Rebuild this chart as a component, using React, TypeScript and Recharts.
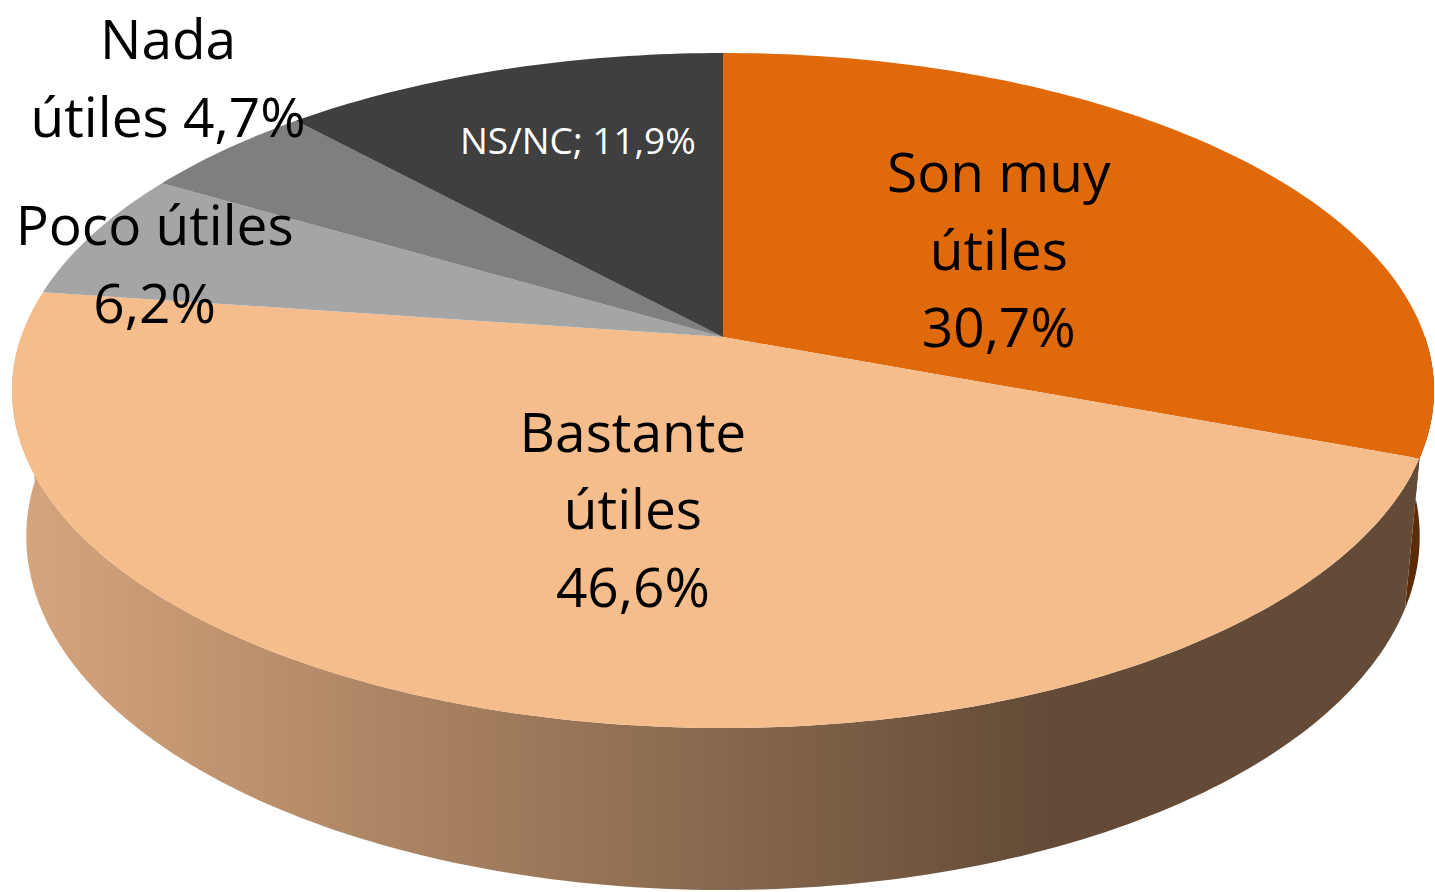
import React from 'react';
import { PieChart, Pie, Cell } from 'recharts';

// Datos de la encuesta
const CATEGORIES = ['Son muy útiles', 'Bastante útiles', 'Poco útiles', 'Nada útiles', 'NS/NC'];
const VALUES = [30.7, 46.6, 6.2, 4.7, 11.9];
const TOP_COLORS = ['#E0690A', '#F6BD8C', '#A5A5A5', '#7F7F7F', '#3F3F3F'];
const SIDE_COLORS = ['#5B2C06', 'url(#sideBastante)', '#8C8C8C', '#666666', '#2A2A2A'];
// Cómo se parte cada etiqueta en líneas; el porcentaje va en línea aparte o al final
const LABEL_LINES = [['Son muy', 'útiles'], ['Bastante', 'útiles'], ['Poco útiles'], ['Nada', 'útiles'], ['NS/NC;']];
const PCT_NEW_LINE = [true, true, true, false, false];
const LABEL_COLORS = ['#000000', '#000000', '#000000', '#000000', '#FFFFFF'];

// Colocación de las etiquetas: radio relativo sobre el ángulo medio + ajuste vertical
const LABEL_LAYOUT = [
  { r: 0.5, dy: 3, size: 55 },
  { r: 0.484, dy: 6, size: 55 },
  { r: 0.897, dy: 20, size: 55 },
  { r: 1.127, dy: -50, size: 55 },
  { r: 0.618, dy: -23, size: 37 },
];

const data = CATEGORIES.map((name, i) => ({ name, value: VALUES[i] }));

// Perspectiva del "queso" 3D
const SIN_P = 0.4687;
const COS_P = 0.8834;
const DIST = 5.57;
const THICK = 0.2376;
const FONT = '"Open Sans", sans-serif';

const formatPct = (v: number) => `${v.toFixed(1).replace('.', ',')}%`;

const project = (cx: number, cy: number, R: number, X: number, Y: number, Z: number) => {
  const z = DIST + Z * COS_P - Y * SIN_P;
  const f = R * DIST;
  return [cx + (f * X) / z, cy - (f * (Y * COS_P + Z * SIN_P)) / z];
};

const arc = (cx: number, cy: number, R: number, from: number, to: number, Y: number) => {
  const pts: number[][] = [];
  const n = Math.max(2, Math.ceil(Math.abs(to - from)));
  for (let i = 0; i <= n; i++) {
    const a = ((from + ((to - from) * i) / n) * Math.PI) / 180;
    pts.push(project(cx, cy, R, Math.cos(a), Y, Math.sin(a)));
  }
  return pts;
};

const toPath = (pts: number[][]) =>
  'M' + pts.map((p) => `${p[0].toFixed(2)},${p[1].toFixed(2)}`).join('L') + 'Z';

const renderSlice = (props: any) => {
  const { cx, cy, outerRadius, startAngle, endAngle, fill } = props;
  const name = props.payload?.name ?? props.name;
  const idx = CATEGORIES.indexOf(name);
  const lo = Math.max(Math.min(startAngle, endAngle), -180);
  const hi = Math.min(Math.max(startAngle, endAngle), 0);
  let side = null;
  if (lo < hi) {
    const top = arc(cx, cy, outerRadius, hi, lo, 0);
    const bottom = arc(cx, cy, outerRadius, lo, hi, -THICK);
    side = <path d={toPath([...top, ...bottom])} fill={SIDE_COLORS[idx]} stroke="none" />;
  }
  const face = [[cx, cy], ...arc(cx, cy, outerRadius, startAngle, endAngle, 0)];
  return (
    <g>
      <defs>
        <linearGradient id="sideBastante" gradientUnits="userSpaceOnUse" x1={20} y1={0} x2={1050} y2={0}>
          <stop offset="0" stopColor="#D6A57D" />
          <stop offset="1" stopColor="#634B37" />
        </linearGradient>
      </defs>
      {side}
      <path d={toPath(face)} fill={fill} stroke="none" />
    </g>
  );
};

const renderLabel = (props: any) => {
  const { cx, cy, outerRadius, midAngle, index, value } = props;
  const lay = LABEL_LAYOUT[index];
  const a = (midAngle * Math.PI) / 180;
  const [x, y0] = project(cx, cy, outerRadius, lay.r * Math.cos(a), 0, lay.r * Math.sin(a));
  const y = y0 + lay.dy;
  const lines = [...LABEL_LINES[index]];
  const last = lines.length - 1;
  if (PCT_NEW_LINE[index]) lines.push(formatPct(value));
  else lines[last] = `${lines[last]} ${formatPct(value)}`;
  const lh = lay.size * 1.41;
  const first = y - ((lines.length - 1) * lh) / 2 + lay.size * 0.357;
  return (
    <text
      key={`lbl-${index}`}
      x={x}
      y={first}
      textAnchor="middle"
      fill={LABEL_COLORS[index]}
      fontFamily={FONT}
      fontSize={lay.size}
    >
      {lines.map((t, i) => (
        <tspan key={i} x={x} y={first + i * lh}>
          {t}
        </tspan>
      ))}
    </text>
  );
};

export default function App() {
  return (
    <div style={{ width: 1435, height: 892, background: '#FFFFFF' }}>
      <style>{'body{margin:0;}'}</style>
      <PieChart width={1435} height={892} margin={{ top: 0, right: 0, bottom: 0, left: 0 }}>
        <Pie
          data={data}
          dataKey="value"
          nameKey="name"
          cx={723}
          cy={337}
          outerRadius={702}
          startAngle={90}
          endAngle={-270}
          stroke="none"
          shape={renderSlice}
          label={renderLabel}
          labelLine={false}
          isAnimationActive={false}
        >
          {data.map((d, i) => (
            <Cell key={d.name} fill={TOP_COLORS[i]} />
          ))}
        </Pie>
      </PieChart>
    </div>
  );
}
